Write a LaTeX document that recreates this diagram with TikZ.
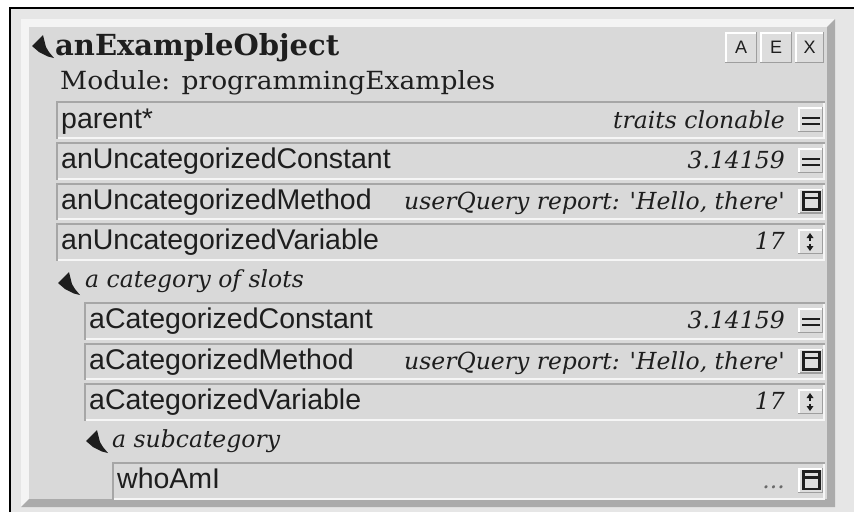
\documentclass[tikz,border=0pt]{standalone}
\usepackage{fontspec}
\setmainfont{DejaVu Serif}
\newfontfamily\slotfont{Liberation Sans}
\newfontfamily\btnfont{Liberation Sans}

\definecolor{ink}{HTML}{1E1E1E}
\definecolor{outerbg}{HTML}{E6E6E6}
\definecolor{face}{HTML}{D9D9D9}
\definecolor{bevlight}{HTML}{F4F4F4}
\definecolor{bevdark}{HTML}{ABABAB}
\definecolor{rowdark}{HTML}{A6A6A6}
\definecolor{rowlight}{HTML}{F6F6F6}
\definecolor{btnface}{HTML}{DDDDDD}
\definecolor{btndark}{HTML}{9E9E9E}
\definecolor{dots}{HTML}{6A6A6A}

\tikzset{
  slotname/.style={anchor=base west, inner sep=0pt, text=ink,
    font=\slotfont\fontsize{28.5}{30}\selectfont},
  slotvalue/.style={anchor=base east, inner sep=0pt, text=ink,
    font=\itshape\fontsize{23.5}{26}\selectfont},
  cathead/.style={anchor=base west, inner sep=0pt, text=ink,
    font=\itshape\fontsize{23.5}{26}\selectfont},
  btnletter/.style={inner sep=0pt, text=ink,
    font=\btnfont\fontsize{18}{20}\selectfont},
}

% sunken slot field: #1 left edge, #2 top edge
\newcommand\sunkenrow[2]{%
  \fill[face] (#1,#2) rectangle (825,#2+37.5);
  \draw[rowlight, line width=2] (#1,#2+36.5) -- (824,#2+36.5) -- (824,#2);
  \draw[rowdark, line width=2] (#1+1,#2+37.5) -- (#1+1,#2+1) -- (825,#2+1);
}
% raised square button at the right end of a slot field, #1 top of the field
\newcommand\rowbutton[1]{%
  \fill[btnface] (798,#1+6) rectangle (823,#1+31);
  \draw[btndark, line width=1.5] (798,#1+30.25) -- (822.25,#1+30.25) -- (822.25,#1+6);
  \draw[white, line width=1.5] (798.75,#1+30) -- (798.75,#1+6.75) -- (822,#1+6.75);
}
\newcommand\iconconst[1]{%
  \fill[ink] (802,#1+15.5) rectangle (820,#1+18);
  \fill[ink] (802,#1+21.5) rectangle (820,#1+24);
}
\newcommand\iconmethod[1]{%
  \draw[ink, line width=2.2] (803.5,#1+9.5) rectangle (819.5,#1+27);
  \draw[ink, line width=2.2] (803.5,#1+15.5) -- (819.5,#1+15.5);
}
\newcommand\iconvar[1]{%
  \fill[ink] (810,#1+10) -- (806.5,#1+15) -- (813.5,#1+15) -- cycle;
  \draw[ink, line width=1.4] (810,#1+14) -- (810,#1+17.5);
  \fill[ink] (810,#1+28) -- (806.5,#1+23) -- (813.5,#1+23) -- cycle;
  \draw[ink, line width=1.4] (810,#1+20.5) -- (810,#1+24);
}
% collapse arrow, #1,#2 = its top-left corner
\newcommand\collapser[2]{%
  \fill[ink] (#1,#2+11) -- (#1+11,#2) -- (#1+14,#2+12) -- (#1+17,#2+17)
    -- (#1+22,#2+23) -- (#1+16,#2+21.5) -- (#1+7,#2+17) -- cycle;
}
% raised title-bar button
\newcommand\titlebutton[2]{%
  \fill[btnface] (#1,32) rectangle (#2,63);
  \draw[btndark, line width=1.5] (#1,62.25) -- (#2-0.75,62.25) -- (#2-0.75,32);
  \draw[white, line width=1.5] (#1+0.75,62) -- (#1+0.75,32.75) -- (#2-1.5,32.75);
}

\begin{document}
\begin{tikzpicture}[x=1pt,y=-1pt]
\useasboundingbox (0,0) rectangle (854,512);
\fill[white] (0,0) rectangle (854,512);

% surrounding area and its frame
\fill[outerbg] (10,8) rectangle (854,512);
\draw[black, line width=1.5] (10,512) -- (10,8) -- (854,8);

% beveled outliner panel
\fill[bevlight] (21,19) -- (835,19) -- (827,27) -- (29,27) -- (29,499) -- (21,507) -- cycle;
\fill[bevdark] (835,19) -- (835,507) -- (21,507) -- (29,499) -- (827,499) -- (827,27) -- cycle;
\fill[face] (29,27) rectangle (827,499);

% header
\collapser{32}{35}
\node[anchor=base west, inner sep=0pt, text=ink, font=\bfseries\fontsize{29}{31}\selectfont]
  (title) at (55,55) {anExampleObject};
\titlebutton{725}{757}
\titlebutton{760}{792}
\titlebutton{795}{824}
\node[btnletter] (btnA) at (741,47.5) {A};
\node[btnletter] (btnE) at (776,47.5) {E};
\node[btnletter] (btnX) at (809.5,47.5) {X};
\node[anchor=base west, inner sep=0pt, text=ink, font=\fontsize{25}{28}\selectfont]
  (module) at (60,89) {\scalebox{1.06}[1]{Module: programmingExamples}};

% uncategorized slots
\sunkenrow{56}{101}
\rowbutton{101}\iconconst{101}
\node[slotname] (parent) at (61,128) {parent*};
\node[slotvalue] (parentval) at (785,128) {traits clonable};

\sunkenrow{56}{142}
\rowbutton{142}\iconconst{142}
\node[slotname] (uconst) at (61,168.5) {anUncategorizedConstant};
\node[slotvalue] (uconstval) at (785,168.5) {3.14159};

\sunkenrow{56}{182.5}
\rowbutton{182.5}\iconmethod{182.5}
\node[slotname] (umeth) at (61,209) {anUncategorizedMethod};
\node[slotvalue] (umethval) at (785,209)
  {userQuery report: \textquotesingle Hello, there\textquotesingle};

\sunkenrow{56}{223}
\rowbutton{223}\iconvar{223}
\node[slotname] (uvar) at (61,249.5) {anUncategorizedVariable};
\node[slotvalue] (uvarval) at (785,249.5) {17};

% category
\collapser{58}{272}
\node[cathead] (cat) at (85,287) {a category of slots};

\sunkenrow{84}{302}
\rowbutton{302}\iconconst{302}
\node[slotname] (cconst) at (89,328.5) {aCategorizedConstant};
\node[slotvalue] (cconstval) at (785,328.5) {3.14159};

\sunkenrow{84}{342.5}
\rowbutton{342.5}\iconmethod{342.5}
\node[slotname] (cmeth) at (89,369) {aCategorizedMethod};
\node[slotvalue] (cmethval) at (785,369)
  {userQuery report: \textquotesingle Hello, there\textquotesingle};

\sunkenrow{84}{383}
\rowbutton{383}\iconvar{383}
\node[slotname] (cvar) at (89,409.5) {aCategorizedVariable};
\node[slotvalue] (cvarval) at (785,409.5) {17};

% subcategory
\collapser{86}{430}
\node[cathead] (subcat) at (112,447) {a subcategory};

\sunkenrow{112}{462}
\rowbutton{462}\iconmethod{462}
\node[slotname] (who) at (117,488.5) {whoAmI};
\node[slotvalue, text=dots] (whoval) at (785,488.5) {...};
\end{tikzpicture}
\end{document}
